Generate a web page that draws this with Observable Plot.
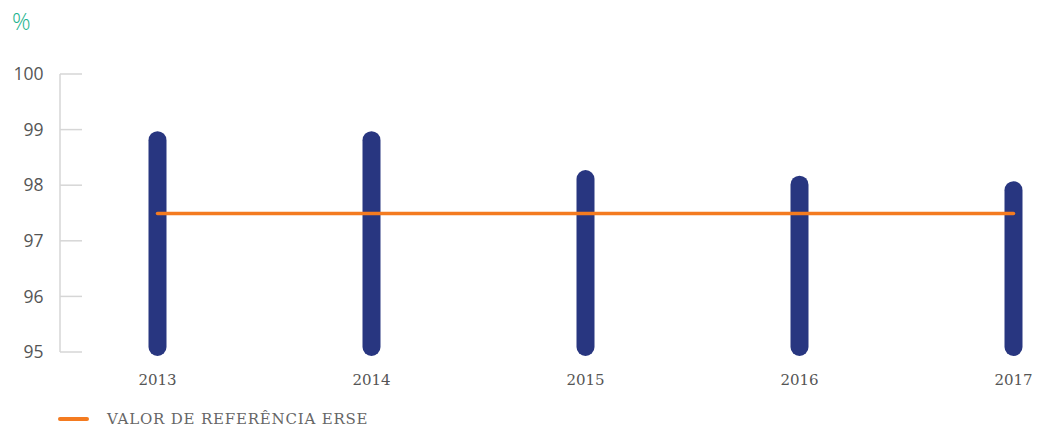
<!DOCTYPE html>
<html>
<head>
<meta charset="utf-8">
<script src="https://cdn.jsdelivr.net/npm/d3@7"></script>
<script src="https://cdn.jsdelivr.net/npm/@observablehq/plot@0.6"></script>
<style>
  html, body { margin: 0; padding: 0; background: #fff; }
  #wrap { position: relative; width: 1049px; height: 432px; overflow: hidden; }
  #unit { position: absolute; left: 12px; top: 5px; font-family: "Open Sans", sans-serif; font-weight: 300; font-size: 23px; color: #1db38e; }
  #legend { position: absolute; left: 58px; top: 410px; display: flex; align-items: center; font-family: "DejaVu Serif", serif; font-size: 15px; color: #666; letter-spacing: 0.8px; }
  #legend .sw { width: 31px; height: 4px; border-radius: 2px; background: #f47b20; margin-right: 18px; }
</style>
</head>
<body>
<div id="wrap">
  <div id="unit">%</div>
  <div id="legend"><span class="sw"></span><span id="legendText"></span></div>
</div>
<script>
const years = ["2013", "2014", "2015", "2016", "2017"];
const values = [98.9, 98.9, 98.2, 98.1, 98.0];
const referenceValue = 97.5;
const yTicks = [95, 96, 97, 98, 99, 100];
const baseValue = 95;
const legendLabel = "VALOR DE REFERÊNCIA ERSE";

document.getElementById("legendText").textContent = legendLabel;

const bars = years.map((y, i) => ({year: y, value: values[i]}));
const refLine = years.map(y => ({year: y, value: referenceValue}));

const axisLines = (index, scales, values, dims) => {
  const g = d3.create("svg:g");
  const x0 = dims.marginLeft;
  g.append("line")
    .attr("x1", x0).attr("x2", x0)
    .attr("y1", scales.y(100)).attr("y2", scales.y(95))
    .attr("stroke", "#d6d6d6").attr("stroke-width", 1.5);
  for (const t of yTicks) {
    g.append("line")
      .attr("x1", x0).attr("x2", x0 + 22)
      .attr("y1", scales.y(t)).attr("y2", scales.y(t))
      .attr("stroke", "#d6d6d6").attr("stroke-width", 1.5);
  }
  return g.node();
};

const chart = Plot.plot({
  width: 1049,
  height: 432,
  marginTop: 74,
  marginBottom: 80,
  marginLeft: 60,
  marginRight: 0,
  style: {background: "transparent", overflow: "visible"},
  x: {type: "point", domain: years, range: [157, 1013], padding: 0, label: null},
  y: {domain: [95, 100], label: null},
  marks: [
    axisLines,
    Plot.axisY(yTicks, {tickSize: 0, tickPadding: 17, fontSize: 17.5, fontFamily: "Open Sans, sans-serif", fill: "#555", tickFormat: d => String(d), label: null}),
    Plot.axisX({tickSize: 0, tickPadding: 22, fontSize: 15, fontFamily: "DejaVu Serif, serif", fill: "#555", label: null}),
    Plot.ruleX(bars, {x: "year", y1: "value", y2: () => baseValue, stroke: "#283680", strokeWidth: 18, strokeLinecap: "round", insetTop: 5, insetBottom: 5}),
    Plot.lineY(refLine, {x: "year", y: "value", stroke: "#f47b20", strokeWidth: 3.5, strokeLinecap: "round"})
  ]
});
document.getElementById("wrap").prepend(chart);
chart.style.position = "absolute";
chart.style.left = "0";
chart.style.top = "0";
</script>
</body>
</html>
